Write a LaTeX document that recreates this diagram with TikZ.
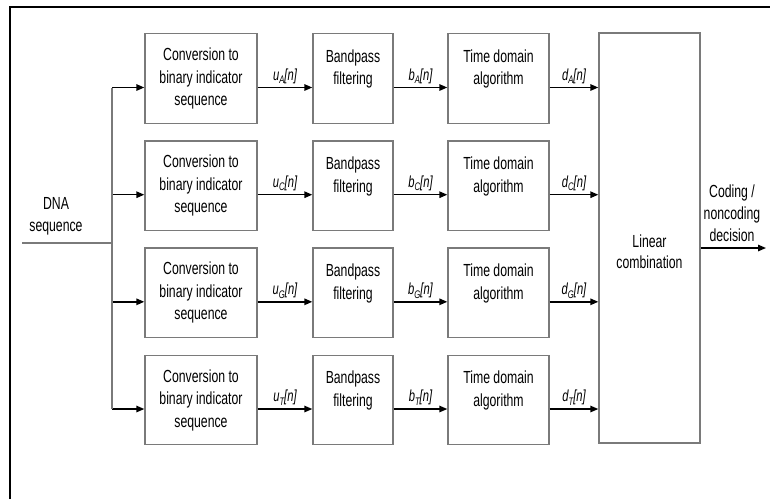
\documentclass[tikz,border=0pt]{standalone}
\usepackage{fontspec}
\setmainfont{Liberation Sans}[FakeStretch=0.7]
\usetikzlibrary{arrows.meta}
\definecolor{boxgray}{HTML}{7A7A7A}
\newcommand\siglab[2]{#1\raisebox{-0.22em}{\fontsize{11}{11}\selectfont #2}[n]}
\begin{document}
\begin{tikzpicture}[x=1pt,y=-1pt,
  blk/.style={draw=boxgray,line width=1.4pt,inner sep=0pt,align=center,
    font=\fontsize{17.5}{22.5}\selectfont},
  conv/.style={blk,minimum width=112pt,minimum height=89.5pt},
  bpbox/.style={blk,minimum width=80pt,minimum height=89.5pt},
  tdbox/.style={blk,minimum width=101pt,minimum height=89.5pt},
  linbox/.style={blk,minimum width=101pt,minimum height=410pt},
  txt/.style={align=center,inner sep=0pt,font=\fontsize{17.5}{22}\selectfont},
  arr/.style={-{Triangle[length=8pt,width=6.5pt]},line width=1.4pt,black},
  busline/.style={line width=1.2pt,boxgray},
  lab/.style={above,inner sep=3pt,font=\fontsize{16}{18}\selectfont\itshape},
  frame/.style={line width=2.8pt,black}]
\useasboundingbox (0,0) rectangle (770,499);
% frame
\coordinate (fBL) at (10,499);
\coordinate (fTL) at (10,7);
\coordinate (fTR) at (770,7);
\draw[frame] (fBL) -- (fTL) -- (fTR);
% linear combination
\node[linbox] (lc) at (649.5,238) {};
\node[txt,anchor=base] (lin1) at (649.5,247) {Linear};
\node[txt,anchor=base] (lin2) at (649.5,268) {combination};
% input
\coordinate (dnaS) at (22,243);
\coordinate (bus) at (112,243);
\node[txt] (dna) at (56,216.5) {DNA\\sequence};
\draw[busline] (dnaS) -- (bus);
% rows
\foreach \r/\y in {A/78.5,C/185.7,G/292.8,T/400}{
  \node[conv] (c\r) at (201,\y) {Conversion to\\binary indicator\\sequence};
  \node[bpbox] (b\r) at (353,\y) {Bandpass\\filtering\\\mbox{}};
  \node[tdbox] (t\r) at (498.5,\y) {Time domain\\algorithm\\\mbox{}};
  \coordinate (r\r) at (0,\y+9);
  \draw[arr] (bus |- r\r) -- (c\r.west |- r\r);
  \draw[arr] (c\r.east |- r\r) -- node[lab] (lu\r) {\siglab{u}{\r}} (b\r.west |- r\r);
  \draw[arr] (b\r.east |- r\r) -- node[lab] (lb\r) {\siglab{b}{\r}} (t\r.west |- r\r);
  \draw[arr] (t\r.east |- r\r) -- node[lab] (ld\r) {\siglab{d}{\r}} (lc.west |- r\r);
}
\draw[busline] (bus |- rA) -- (bus |- rT);
% output
\coordinate (outE) at (766,248);
\draw[arr] (lc.east |- outE) -- (outE);
\node[txt] (dec) at (732,213) {Coding /\\noncoding\\decision};
\end{tikzpicture}
\end{document}
